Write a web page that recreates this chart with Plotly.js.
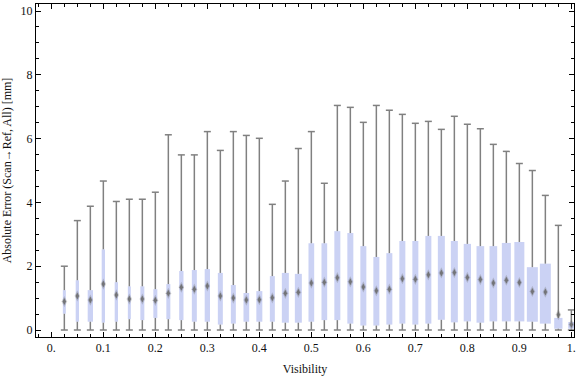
<!DOCTYPE html>
<html><head><meta charset="utf-8">
<script src="https://cdn.plot.ly/plotly-3.0.1.min.js"></script>
<style>html,body{margin:0;padding:0;background:#fff}#chart{width:576px;height:377px}</style>
</head><body><div id="chart"></div>
<script>
const visibility = [0.025,0.05,0.075,0.1,0.125,0.15,0.175,0.2,0.225,0.25,0.275,0.3,0.325,0.35,0.375,0.4,0.425,0.45,0.475,0.5,0.525,0.55,0.575,0.6,0.625,0.65,0.675,0.7,0.725,0.75,0.775,0.8,0.825,0.85,0.875,0.9,0.925,0.95,0.975,1.0];
const whiskerLow = [0,0,0,0,0,0,0,0,0,0,0,0,0,0,0,0,0,0,0,0,0,0,0,0,0,0,0,0,0,0,0,0,0,0,0,0,0,0,0,0];
const q1 = [0.51,0.26,0.26,0.23,0.26,0.34,0.31,0.38,0.34,0.31,0.26,0.26,0.17,0.2,0.26,0.26,0.26,0.23,0.23,0.26,0.31,0.31,0.2,0.14,0.14,0.17,0.2,0.17,0.2,0.32,0.24,0.27,0.23,0.27,0.27,0.27,0.26,0.2,0.04,0.04];
const median = [0.89,1.07,0.94,1.44,1.10,0.97,0.97,0.93,1.15,1.34,1.28,1.38,1.07,1.0,0.94,0.95,1.01,1.15,1.18,1.47,1.5,1.64,1.51,1.35,1.23,1.28,1.61,1.59,1.73,1.79,1.8,1.65,1.58,1.47,1.56,1.49,1.21,1.19,0.48,0.17];
const q3 = [1.25,1.56,1.25,2.53,1.50,1.37,1.37,1.28,1.44,1.85,1.88,1.91,1.79,1.41,1.16,1.22,1.69,1.79,1.76,2.72,2.72,3.1,3.04,2.63,2.29,2.41,2.79,2.79,2.95,2.95,2.79,2.7,2.63,2.63,2.73,2.76,1.97,2.08,0.38,0.25];
const whiskerHigh = [2.0,3.43,3.88,4.67,4.03,4.1,4.1,4.32,6.12,5.49,5.49,6.22,5.63,6.22,6.1,6.01,3.94,4.67,5.69,6.22,4.6,7.04,6.98,6.51,7.04,6.89,6.76,6.48,6.54,6.29,6.7,6.45,6.31,5.82,5.6,5.22,5.0,4.22,3.28,0.63];
const boxWeight = [3,3.3,5.3,3.3,3.3,3,4,4,4,4.3,5,5.3,5,5,5.7,6,5,7,7,5.7,5.7,6,6,6,6,6,6,6,6,7,7,7.3,7.7,7.7,9,10,11,11,8.3,6.3];
const xTickVals = [0,0.1,0.2,0.3,0.4,0.5,0.6,0.7,0.8,0.9,1.0];
const xTickText = ['0.','0.1','0.2','0.3','0.4','0.5','0.6','0.7','0.8','0.9','1.'];
const yTickVals = [0,2,4,6,8,10];
const yTickText = ['0','2','4','6','8','10'];
const xTitle = 'Visibility';
const yTitle = 'Absolute Error (Scan\u2192Ref, All) [mm]';

const xRange = [-0.0295, 1.0051];
const yRange = [-0.219, 10.22];
const plotWpx = 538;
const pxPerUnit = plotWpx / (xRange[1] - xRange[0]);

const wx = [], wy = [];
visibility.forEach((v, i) => {
  wx.push(v, v, null, v, v, null);
  wy.push(whiskerLow[i], q1[i], null, q3[i], whiskerHigh[i], null);
});
const capX = visibility.concat(visibility);
const capY = whiskerLow.concat(whiskerHigh);

const gray = '#808080';
const traces = [
  {type:'bar', x: visibility, base: q1, y: q3.map((v,i)=>v-q1[i]),
   width: boxWeight.map(w => w / pxPerUnit),
   marker:{color:'#cbd2f4', line:{width:0}}, hoverinfo:'skip'},
  {type:'scatter', mode:'lines', x: wx, y: wy, connectgaps:false,
   line:{color:gray, width:1.5}, hoverinfo:'skip'},
  {type:'scatter', mode:'markers', x: capX, y: capY,
   marker:{symbol:'line-ew', size:5, line:{color:gray, width:1.5}}, hoverinfo:'skip'},
  {type:'scatter', mode:'markers', x: visibility, y: median,
   marker:{symbol:'diamond-tall', size:8, color:'rgba(110,110,110,0.3)', line:{width:0}}, hoverinfo:'skip'},
  {type:'scatter', mode:'markers', x: visibility, y: median,
   marker:{symbol:'diamond-tall', size:5, color:'rgba(105,105,105,0.85)', line:{width:0}}, hoverinfo:'skip'}
];

const axisCommon = {
  showline:true, linecolor:'#000', linewidth:1, mirror:'allticks',
  ticks:'inside', ticklen:5, tickwidth:1, tickcolor:'#000',
  showgrid:false, zeroline:false,
  tickfont:{family:'Liberation Serif', size:12, color:'#111'}
};

const layout = {
  width:576, height:377,
  margin:{l:36, r:2, t:4, b:40},
  paper_bgcolor:'#fff', plot_bgcolor:'#fff',
  showlegend:false, barmode:'overlay',
  font:{family:'Liberation Serif', size:12, color:'#111'},
  xaxis: Object.assign({}, axisCommon, {
    range:xRange, tickmode:'array', tickvals:xTickVals, ticktext:xTickText,
    minor:{dtick:0.025, tick0:0, ticks:'inside', ticklen:3, tickcolor:'#000', showgrid:false},
    title:{text:xTitle, font:{family:'Liberation Serif', size:12, color:'#111'}, standoff:10}
  }),
  yaxis: Object.assign({}, axisCommon, {
    range:yRange, tickmode:'array', tickvals:yTickVals, ticktext:yTickText,
    minor:{dtick:0.5, tick0:0, ticks:'inside', ticklen:3, tickcolor:'#000', showgrid:false},
    title:{text:yTitle, font:{family:'Liberation Serif', size:12, color:'#111'}, standoff:6}
  })
};

Plotly.newPlot('chart', traces, layout, {displayModeBar:false, staticPlot:true});
</script>
</body></html>
